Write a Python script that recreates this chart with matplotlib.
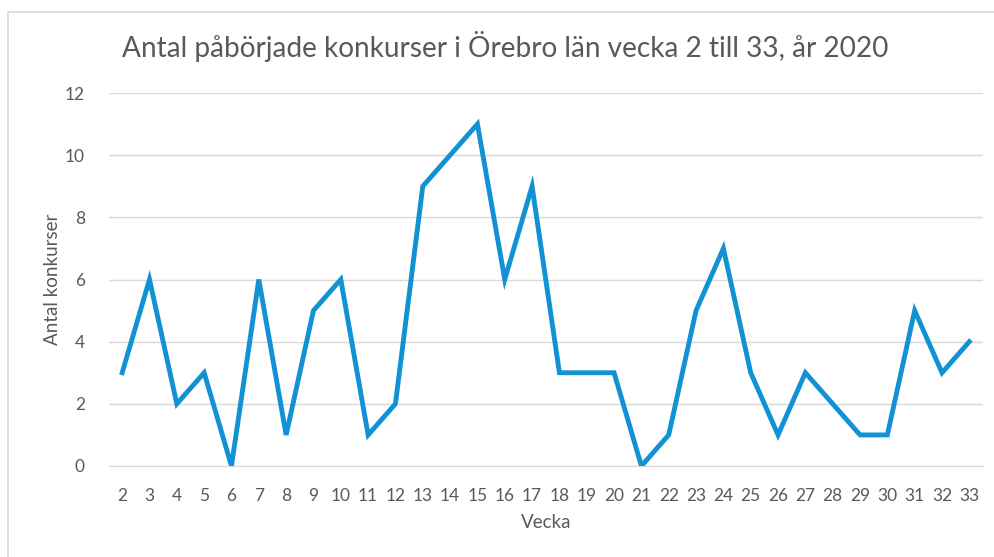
import matplotlib.pyplot as plt
from matplotlib.patches import Rectangle

vecka = list(range(2, 34))
antal = [3, 6, 2, 3, 0, 6, 1, 5, 6, 1, 2, 9, 10, 11, 6, 9, 3, 3, 3, 0, 1, 5, 7, 3, 1, 3, 2, 1, 1, 5, 3, 4]

plt.rcParams['font.family'] = ['Lato', 'DejaVu Sans']

W, H = 994, 557
fig = plt.figure(figsize=(W / 100, H / 100), dpi=100)
fig.patches.append(Rectangle((8 / W, -0.2), 1.2, 1.2 - 12 / H, transform=fig.transFigure,
                             fill=False, edgecolor='#d9d9d9', linewidth=1.2))

ax = fig.add_axes([108.5 / W, 1 - 466 / H, (983 - 108.5) / W, (466 - 93) / H])
ax.plot(vecka, antal, color='#1192d4', linewidth=3.5, solid_joinstyle='miter')

ax.set_xlim(1.5, 33.5)
ax.set_ylim(0, 12)
ax.set_yticks(range(0, 13, 2))
ax.set_xticks(vecka)
ax.grid(axis='y', color='#d9d9d9', linewidth=1)
ax.set_axisbelow(True)
for s in ['top', 'right', 'left']:
    ax.spines[s].set_visible(False)
ax.spines['bottom'].set_color('#d9d9d9')
ax.tick_params(length=0, labelsize=12.5, colors='#595959', pad=16)
ax.tick_params(axis='y', pad=17)

ax.set_xlabel('Vecka', fontsize=13.5, color='#595959', labelpad=7)
ax.set_ylabel('Antal konkurser', fontsize=13.5, color='#595959', labelpad=3)
fig.text(505 / W, 1 - 47 / H, 'Antal påbörjade konkurser i Örebro län vecka 2 till 33, år 2020',
         ha='center', va='center', fontsize=20.2, color='#595959')

plt.savefig('out.png', dpi=100)
